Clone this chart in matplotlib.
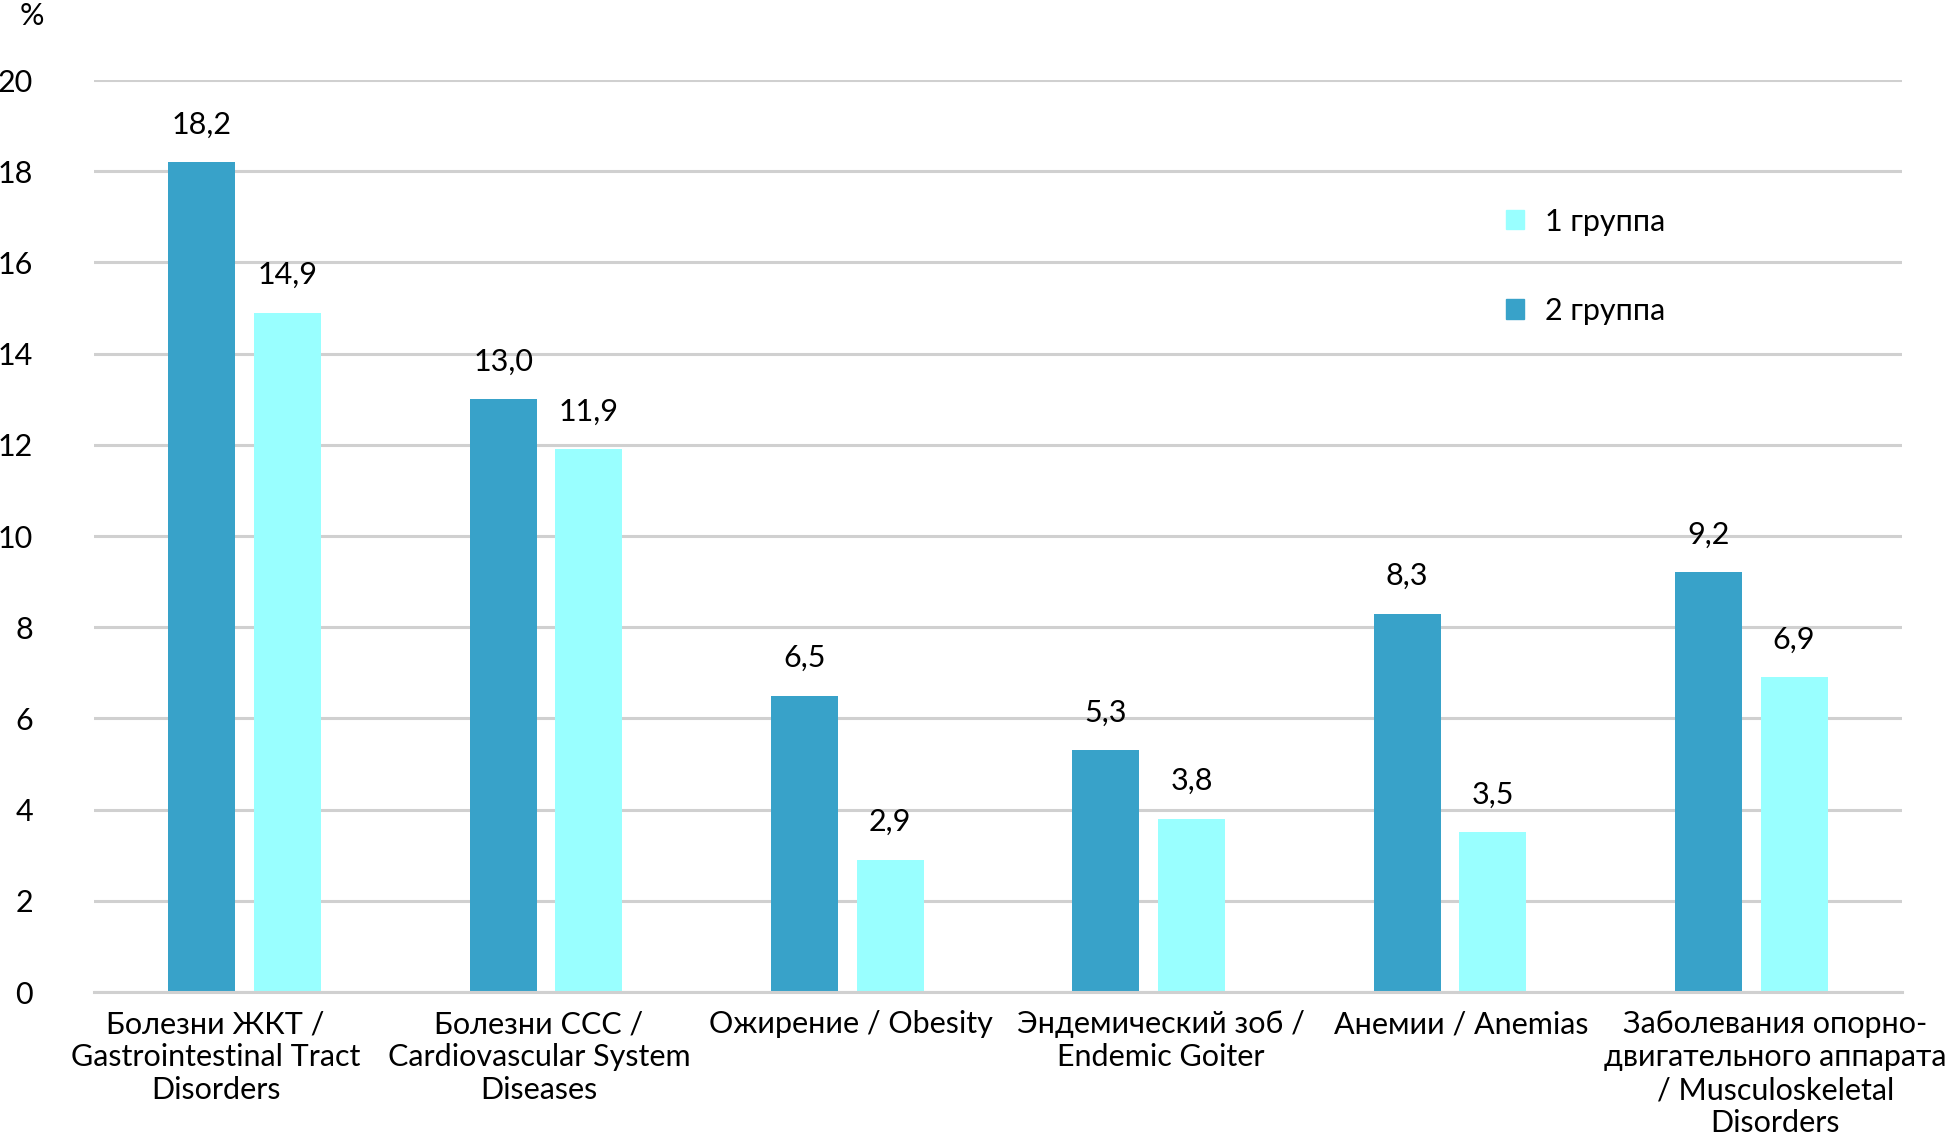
import matplotlib
matplotlib.use("Agg")
import matplotlib.pyplot as plt
import matplotlib.transforms as mtransforms
from matplotlib.patches import Patch
import numpy as np

categories = [
    "Болезни ЖКТ /\nGastrointestinal Tract\nDisorders",
    "Болезни ССС /\nCardiovascular System\nDiseases",
    "Ожирение / Obesity",
    "Эндемический зоб /\nEndemic Goiter",
    "Анемии / Anemias",
    "Заболевания опорно-\nдвигательного аппарата\n/ Musculoskeletal\nDisorders",
]
group2 = [18.2, 13.0, 6.5, 5.3, 8.3, 9.2]
group1 = [14.9, 11.9, 2.9, 3.8, 3.5, 6.9]
series_names = ["1 группа", "2 группа"]
yticks = [0, 2, 4, 6, 8, 10, 12, 14, 16, 18, 20]

plt.rcParams['font.family'] = ['Lato', 'DejaVu Sans']
FS = 22

c_dark = "#38A2C9"
c_light = "#99FFFF"
grid_c = "#D0D0D0"

fig = plt.figure(figsize=(19.54, 11.35), dpi=100)
ax = fig.add_axes([94/1954, 1-992/1135, (1902-94)/1954, (992-80)/1135])

x = np.arange(len(categories)) + 0.5
w = 0.222
off = 0.142
b2 = ax.bar(x - off, group2, width=w, color=c_dark, zorder=3)
b1 = ax.bar(x + off, group1, width=w, color=c_light, zorder=3)

def fmt(v):
    return f"{v:.1f}".replace(".", ",")

for bars, vals in ((b2, group2), (b1, group1)):
    for b, v in zip(bars, vals):
        ax.annotate(fmt(v), (b.get_x() + b.get_width()/2, v),
                    xytext=(0, 27), textcoords="offset points",
                    ha="center", va="center", fontsize=FS)

ax.set_xlim(0, len(categories))
ax.set_ylim(0, 20)
ax.set_yticks(yticks)
ax.set_yticklabels([str(t) for t in yticks], fontsize=FS)
ax.set_xticks(x)
ax.set_xticklabels(categories, fontsize=FS, linespacing=1.22, va="top")
ax.tick_params(axis="y", length=0, pad=44)
ax.tick_params(axis="x", length=0, pad=13)

# Excel-like horizontal placement of wrapped category labels (pixels)
label_shift_px = [-29, -7, 4, 12, 11, 24]
for lab, dx in zip(ax.get_xticklabels(), label_shift_px):
    lab.set_transform(lab.get_transform() +
                      mtransforms.ScaledTranslation(dx / 100, 0, fig.dpi_scale_trans))

ax.yaxis.grid(True, color=grid_c, linewidth=2.2, zorder=0)
ax.set_axisbelow(True)
for s in ["top", "right", "left"]:
    ax.spines[s].set_visible(False)
ax.spines["bottom"].set_color(grid_c)
ax.spines["bottom"].set_linewidth(2.2)
ax.spines["bottom"].set_zorder(4)

fig.text(32/1954, 1-16/1135, "%", ha="center", va="center", fontsize=FS)

handles = [Patch(color=c_light), Patch(color=c_dark)]
leg = ax.legend(handles, series_names, loc="upper left",
                bbox_to_anchor=(1478/1954, 1-180/1135), bbox_transform=fig.transFigure,
                frameon=False, fontsize=FS, handlelength=0.6, handleheight=0.6,
                handletextpad=0.7, labelspacing=2.0)

fig.savefig("out.png", dpi=100)
